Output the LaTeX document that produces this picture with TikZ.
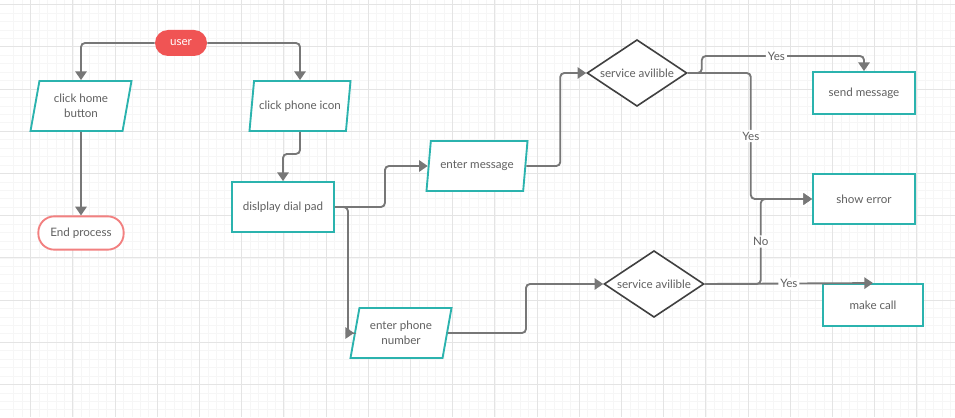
\documentclass[tikz,border=0pt]{standalone}
\usepackage{fontspec}
\setmainfont{Lato}
\usetikzlibrary{arrows.meta,shapes.geometric}
\definecolor{flowteal}{HTML}{2BB3AE}
\definecolor{flowred}{HTML}{F05454}
\definecolor{flowpink}{HTML}{F28080}
\definecolor{flowgray}{HTML}{777777}
\definecolor{flowtext}{HTML}{606060}
\definecolor{gridmajor}{HTML}{E4E4E4}
\definecolor{gridminor}{HTML}{F6F6F6}

\begin{document}
\begin{tikzpicture}[x=0.75pt,y=-0.75pt,>={Triangle[length=6.5pt,width=8.5pt]},
  every node/.style={font=\fontsize{8.7}{11}\selectfont,text=flowtext,align=center},
  io/.style={trapezium,trapezium left angle=71,trapezium right angle=109,
    trapezium stretches body,draw=flowteal,line width=1.4pt,fill=white,
    minimum width=75.75pt,minimum height=37.5pt,inner sep=1pt},
  proc/.style={rectangle,draw=flowteal,line width=1.4pt,fill=white,
    minimum width=76.5pt,minimum height=37.5pt},
  decide/.style={diamond,shape aspect=2,draw=black!75,line width=1.2pt,fill=white,
    minimum width=75pt,minimum height=50pt,inner sep=0pt},
  pill/.style={rectangle,rounded corners=9.75pt,minimum width=39pt,minimum height=19.5pt},
  conn/.style={->,draw=flowgray,line width=1.4pt,rounded corners=3pt},
  lbl/.style={fill=white,inner sep=1.5pt}]
  \useasboundingbox (0,0) rectangle (955,417);
  % Background grid
  \begin{scope}
    \clip (0,0) rectangle (955,417);
    \fill[white] (0,0) rectangle (955,417);
    \foreach \i in {-2,...,113} {
      \draw[gridminor,line width=0.6pt] ({30.7+8.44*\i},0) -- ++(0,417);
    }
    \foreach \j in {-1,...,49} {
      \draw[gridminor,line width=0.6pt] (0,{4.7+8.44*\j}) -- ++(955,0);
    }
    \foreach \i in {0,...,22} {
      \draw[gridmajor,line width=0.8pt] ({30.7+42.2*\i},0) -- ++(0,417);
    }
    \foreach \j in {0,...,9} {
      \draw[gridmajor,line width=0.8pt] (0,{4.7+42.2*\j}) -- ++(955,0);
    }
  \end{scope}

  % Nodes
  \node[pill,fill=flowred,text=white] (user) at (181,43) {user};
  \node[io] (home) at (81,106) {click home\\button};
  \node[io] (phone) at (300,106) {click phone icon};
  \node[pill,draw=flowpink,line width=1.4pt,fill=white,rounded corners=12pt,
    minimum width=64pt,minimum height=25pt] (endp) at (81,233) {End process};
  \node[proc] (dial) at (283,207) {dislplay dial pad};
  \node[io] (msg) at (477,166) {enter message};
  \node[io] (num) at (401,333) {enter phone\\number};
  \node[decide] (svc1) at (637,73) {service avilible};
  \node[decide] (svc2) at (654,284) {service avilible};
  \node[proc,minimum height=31.5pt] (send) at (864,93) {send message};
  \node[proc] (err) at (864,199) {show error};
  \node[proc,minimum width=75pt,minimum height=31.5pt] (call) at (873,305) {make call};

  % Connectors
  \draw[conn] (user.west) -| (home.north);
  \draw[conn] (user.east) -| (phone.north);
  \draw[conn] (home.south) -- (endp.north);
  \draw[conn] (phone.south) -- ++(0,22) -| (dial.north);
  \draw[conn] (dial.east) -- ++(50,0) |- (msg.west);
  \draw[conn] (dial.east) -- ++(13,0) |- (num.west);
  \draw[conn] (msg.east) -- ++(34,0) |- (svc1.west);
  \draw[conn] (num.east) -- ++(78,0) |- (svc2.west);
  \draw[conn] (svc1.east) -- ++(14,0) -- ++(0,-17) -| node[lbl,pos=0.23] {Yes} (send.north);
  \draw[conn] (svc1.east) -- ++(63,0) |- node[lbl,pos=0.25] {Yes} (err.west);
  \draw[conn] (svc2.east) -- ++(56,0) |- node[lbl,pos=0.25] {No} (err.west);
  \draw[conn] (svc2.east) -- node[lbl] {Yes} (call.north);
\end{tikzpicture}
\end{document}
